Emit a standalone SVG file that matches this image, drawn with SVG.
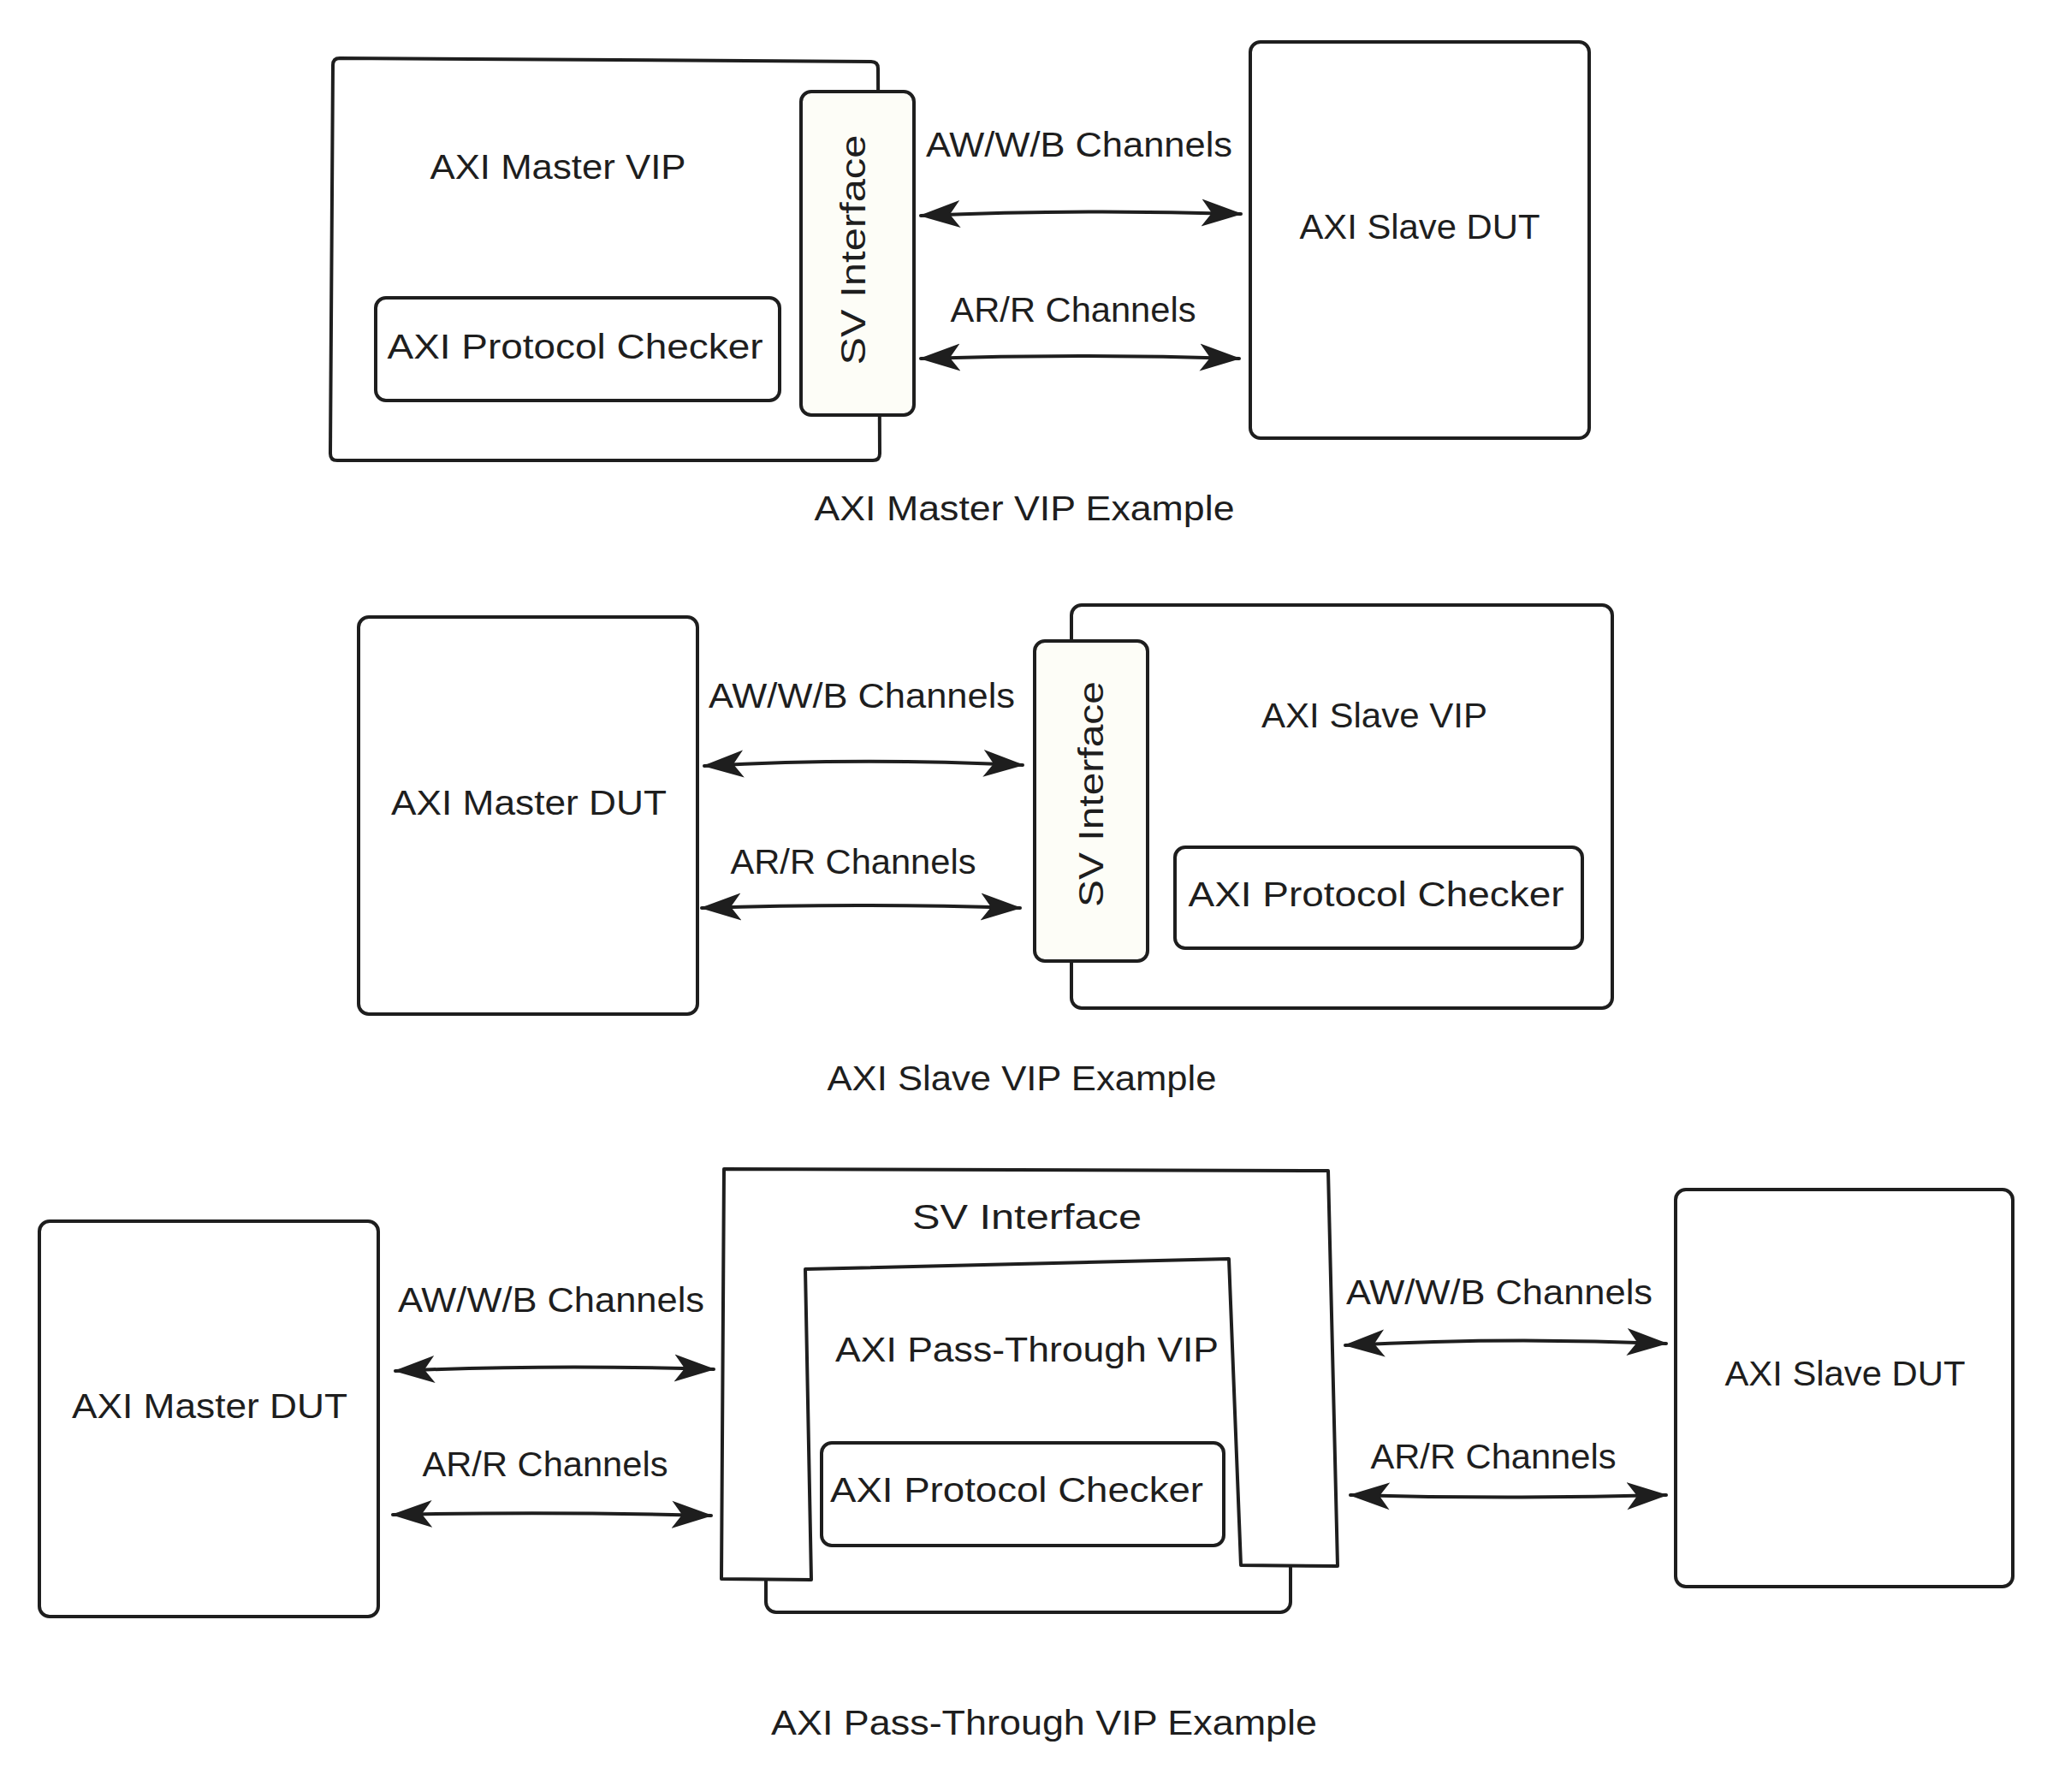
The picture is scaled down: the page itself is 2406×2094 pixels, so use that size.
<svg xmlns="http://www.w3.org/2000/svg" width="2406" height="2094" viewBox="0 0 2406 2094">
<style>
.box{fill:#ffffff;stroke:#1e1e1e;stroke-width:4;stroke-linejoin:round}
.ifc{fill:#fdfdf7;stroke:#1e1e1e;stroke-width:4;stroke-linejoin:round}
.lbl{font-family:"Liberation Sans","DejaVu Sans",sans-serif;font-size:40px;fill:#1e1e1e;text-anchor:middle;dominant-baseline:central}
.con{fill:none;stroke:#1e1e1e;stroke-width:4;stroke-linecap:round;marker-start:url(#ah);marker-end:url(#ah)}
</style>
<defs>
<marker id="ah" markerUnits="userSpaceOnUse" markerWidth="50" markerHeight="36" refX="46" refY="18" orient="auto-start-reverse">
<path d="M0,2 L48,18 L0,34 L12,18 Z" fill="#1e1e1e"/>
</marker>
</defs>
<rect width="2406" height="2094" fill="#ffffff"/>

<!-- Diagram 1 -->
<g id="master-vip-1">
<path class="box" d="M397,68 L1018,72 Q1026,72 1026,80 L1028,530 Q1028,538 1020,538 L394,538 Q386,538 386,530 L389,76 Q389,68 397,68 Z"/>
<text class="lbl" x="652" y="195" textLength="299" lengthAdjust="spacingAndGlyphs">AXI Master VIP</text>
</g>
<g id="checker-1">
<rect class="box" x="439" y="348" width="472" height="120" rx="12"/>
<text class="lbl" x="672" y="405" textLength="439" lengthAdjust="spacingAndGlyphs">AXI Protocol Checker</text>
</g>
<g id="sv-if-1">
<rect class="ifc" x="936" y="107" width="132" height="378" rx="12"/>
<text class="lbl" x="0" y="0" transform="translate(997,292) rotate(-90)" textLength="269" lengthAdjust="spacingAndGlyphs">SV Interface</text>
</g>
<g id="slave-dut-1">
<rect class="box" x="1461" y="49" width="396" height="463" rx="12"/>
<text class="lbl" x="1659" y="265" textLength="281" lengthAdjust="spacingAndGlyphs">AXI Slave DUT</text>
</g>
<text class="lbl" x="1261" y="169" textLength="358" lengthAdjust="spacingAndGlyphs">AW/W/B Channels</text>
<text class="lbl" x="1254" y="362" textLength="287" lengthAdjust="spacingAndGlyphs">AR/R Channels</text>
<text class="lbl" x="1197" y="594" textLength="491" lengthAdjust="spacingAndGlyphs">AXI Master VIP Example</text>

<!-- Diagram 2 -->
<g id="master-dut-2">
<rect class="box" x="419" y="721" width="396" height="464" rx="12"/>
<text class="lbl" x="618" y="938" textLength="322" lengthAdjust="spacingAndGlyphs">AXI Master DUT</text>
</g>
<g id="slave-vip-2">
<rect class="box" x="1252" y="707" width="632" height="471" rx="12"/>
<text class="lbl" x="1606" y="836" textLength="264" lengthAdjust="spacingAndGlyphs">AXI Slave VIP</text>
</g>
<g id="sv-if-2">
<rect class="ifc" x="1209" y="749" width="132" height="374" rx="12"/>
<text class="lbl" x="0" y="0" transform="translate(1275,928) rotate(-90)" textLength="264" lengthAdjust="spacingAndGlyphs">SV Interface</text>
</g>
<g id="checker-2">
<rect class="box" x="1373" y="990" width="476" height="118" rx="12"/>
<text class="lbl" x="1608" y="1045" textLength="439" lengthAdjust="spacingAndGlyphs">AXI Protocol Checker</text>
</g>
<text class="lbl" x="1007" y="813" textLength="358" lengthAdjust="spacingAndGlyphs">AW/W/B Channels</text>
<text class="lbl" x="997" y="1007" textLength="287" lengthAdjust="spacingAndGlyphs">AR/R Channels</text>
<text class="lbl" x="1194" y="1260" textLength="455" lengthAdjust="spacingAndGlyphs">AXI Slave VIP Example</text>

<!-- Diagram 3 -->
<g id="master-dut-3">
<rect class="box" x="46" y="1427" width="396" height="462" rx="12"/>
<text class="lbl" x="245" y="1643" textLength="322" lengthAdjust="spacingAndGlyphs">AXI Master DUT</text>
</g>
<g id="pass-vip-3">
<rect class="box" x="895" y="1420" width="613" height="464" rx="12"/>
</g>
<g id="sv-if-3">
<path class="box" d="M846,1366 L1552,1368 L1563,1830 L1450,1829 L1436,1471 L941,1483 L948,1846 L843,1845 Z"/>
<text class="lbl" x="1200" y="1422" textLength="268" lengthAdjust="spacingAndGlyphs">SV Interface</text>
</g>
<g id="pass-vip-label-3">
<text class="lbl" x="1200" y="1577" textLength="448" lengthAdjust="spacingAndGlyphs">AXI Pass-Through VIP</text>
</g>
<g id="checker-3">
<rect class="box" x="960" y="1686" width="470" height="120" rx="12"/>
<text class="lbl" x="1188" y="1741" textLength="436" lengthAdjust="spacingAndGlyphs">AXI Protocol Checker</text>
</g>
<g id="slave-dut-3">
<rect class="box" x="1958" y="1390" width="394" height="464" rx="12"/>
<text class="lbl" x="2156" y="1605" textLength="281" lengthAdjust="spacingAndGlyphs">AXI Slave DUT</text>
</g>
<text class="lbl" x="644" y="1519" textLength="358" lengthAdjust="spacingAndGlyphs">AW/W/B Channels</text>
<text class="lbl" x="637" y="1711" textLength="287" lengthAdjust="spacingAndGlyphs">AR/R Channels</text>
<text class="lbl" x="1752" y="1510" textLength="358" lengthAdjust="spacingAndGlyphs">AW/W/B Channels</text>
<text class="lbl" x="1745" y="1702" textLength="287" lengthAdjust="spacingAndGlyphs">AR/R Channels</text>
<text class="lbl" x="1220" y="2013" textLength="638" lengthAdjust="spacingAndGlyphs">AXI Pass-Through VIP Example</text>

<g id="connectors">
<path class="con" d="M1076,252 Q1260,244 1450,250"/>
<path class="con" d="M1076,419 Q1262,413 1448,419"/>
<path class="con" d="M823,895 Q1000,885 1195,894"/>
<path class="con" d="M820,1061 Q1000,1055 1192,1061"/>
<path class="con" d="M462,1602 Q640,1594 834,1600"/>
<path class="con" d="M459,1770 Q640,1766 831,1771"/>
<path class="con" d="M1572,1572 Q1760,1562 1947,1570"/>
<path class="con" d="M1578,1747 Q1760,1752 1947,1747"/>
</g>
</svg>
